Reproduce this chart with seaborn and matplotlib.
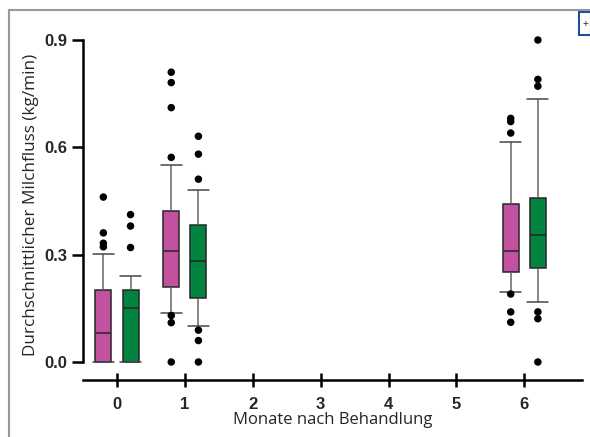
import pandas as pd
import numpy as np
import matplotlib.pyplot as plt
import seaborn as sns
from matplotlib.lines import Line2D
from matplotlib.patches import Rectangle

# five-number summaries: whisker low, Q1, median, Q3, whisker high
months = [0, 0, 1, 1, 6, 6]
groups = ["A", "B", "A", "B", "A", "B"]
whisker_low = [0.0, 0.0, 0.138, 0.101, 0.197, 0.168]
q1 = [0.0, 0.0, 0.211, 0.178, 0.251, 0.262]
median = [0.081, 0.150, 0.310, 0.281, 0.311, 0.354]
q3 = [0.200, 0.200, 0.423, 0.382, 0.442, 0.459]
whisker_high = [0.302, 0.240, 0.551, 0.480, 0.614, 0.734]

# outlier points
out_month = [0, 0, 0, 0, 0, 0, 0,
             1, 1, 1, 1, 1, 1, 1,
             1, 1, 1, 1, 1, 1,
             6, 6, 6, 6, 6, 6,
             6, 6, 6, 6, 6, 6]
out_group = ["A", "A", "A", "A", "B", "B", "B",
             "A", "A", "A", "A", "A", "A", "A",
             "B", "B", "B", "B", "B", "B",
             "A", "A", "A", "A", "A", "A",
             "B", "B", "B", "B", "B", "B"]
out_value = [0.461, 0.361, 0.332, 0.322, 0.412, 0.380, 0.320,
             0.810, 0.781, 0.711, 0.572, 0.130, 0.110, 0.0,
             0.631, 0.581, 0.511, 0.089, 0.060, 0.0,
             0.681, 0.672, 0.640, 0.190, 0.140, 0.111,
             0.900, 0.790, 0.771, 0.140, 0.121, 0.0]

month_ticks = [0, 1, 2, 3, 4, 5, 6]
palette = {"A": "#C2519F", "B": "#00843F"}

rows = []
for m, g, a, b, c, d, e in zip(months, groups, whisker_low, q1, median, q3, whisker_high):
    for v in (a, b, c, d, e):
        rows.append({"month": m, "group": g, "value": v})
box_df = pd.DataFrame(rows)
out_df = pd.DataFrame({"month": out_month, "group": out_group, "value": out_value})

sns.set_theme(style="ticks")
plt.rcParams["font.family"] = ["Liberation Sans", "DejaVu Sans"]

fig = plt.figure(figsize=(5.9, 4.37), dpi=100)
ax = fig.add_axes([83 / 590, 1 - 380 / 437, (582 - 83) / 590, (380 - 30) / 437])

CAP_COLOR = "#474747"
sns.boxplot(
    data=box_df, x="month", y="value", hue="group", native_scale=True,
    whis=(0, 100), showfliers=False, width=0.8, gap=0.41, saturation=1,
    palette=palette, linecolor="#262626", linewidth=1.1,
    whiskerprops={"color": "#666666"}, capprops={"color": CAP_COLOR},
    legend=False, ax=ax,
)
# caps in the original are wider than the boxes
for ln in ax.lines:
    if ln.get_color() == CAP_COLOR:
        xs = np.asarray(ln.get_xdata(), dtype=float)
        mid = xs.mean()
        ln.set_xdata([mid - 0.155, mid + 0.155])

sns.stripplot(
    data=out_df, x="month", y="value", hue="group", native_scale=True,
    dodge=True, jitter=False, palette={"A": "black", "B": "black"},
    size=5.4, legend=False, ax=ax, clip_on=False, zorder=5,
)

ax.set_xlim(-0.5, 6.85)
ax.set_ylim(-0.0503, 0.928)
ax.set_xticks(month_ticks)
ax.set_yticks([0.0, 0.3, 0.6, 0.9])
ax.set_yticklabels(["0.0", "0.3", "0.6", "0.9"])
for lab in ax.get_xticklabels() + ax.get_yticklabels():
    lab.set_fontweight("bold")
    lab.set_fontsize(12)
ax.tick_params(axis="y", direction="out", length=8, width=1.8, pad=3, color="black")
ax.tick_params(axis="x", direction="inout", length=10, width=1.8, pad=7, color="black")

sns.despine(ax=ax)
ax.spines["left"].set_bounds(0, 0.9)
ax.spines["left"].set_linewidth(1.8)
ax.spines["bottom"].set_linewidth(1.8)
ax.spines["left"].set_color("black")
ax.spines["bottom"].set_color("black")
ax.set_facecolor("none")

ax.set_xlabel("Monate nach Behandlung", fontsize=12, family=["Open Sans", "DejaVu Sans"], labelpad=0)
ax.set_ylabel("Durchschnittlicher Milchfluss (kg/min)", fontsize=12.3,
              family=["Open Sans", "DejaVu Sans"], labelpad=4)

# page frame and corner box from the source figure
fig.add_artist(Line2D([9 / 590, 9 / 590], [0, 1 - 10 / 437], color="#999999", lw=1.5))
fig.add_artist(Line2D([9 / 590, 1], [1 - 10 / 437, 1 - 10 / 437], color="#999999", lw=1.5))
fig.add_artist(Rectangle((579 / 590, 1 - 35 / 437), 12 / 590, 23 / 437,
                         fill=False, edgecolor="#1f4e9c", lw=1.5))
fig.text(583 / 590, 1 - 24 / 437, "+", fontsize=7, va="center", ha="left")

fig.savefig("out.png", dpi=100)
